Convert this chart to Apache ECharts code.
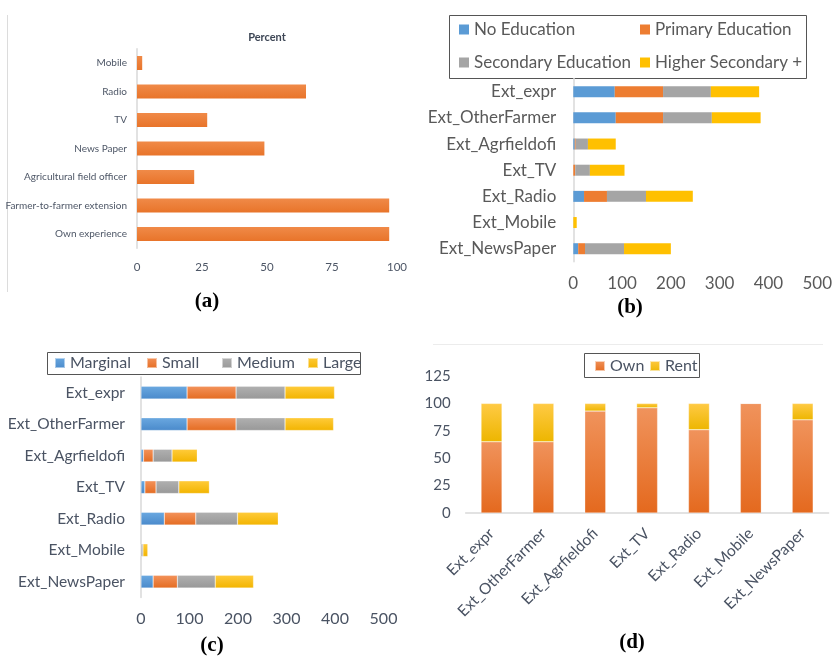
<!DOCTYPE html>
<html>
<head>
<meta charset="utf-8">
<script src="https://cdn.jsdelivr.net/npm/echarts@6/dist/echarts.min.js"></script>
<style>html,body{margin:0;padding:0;background:#fff}#c{width:834px;height:656px}</style>
</head>
<body>
<div id="c"></div>
<script>
// ---- Data ----
const sourcesA = ['Mobile','Radio','TV','News Paper','Agricultural field officer','Farmer-to-farmer extension','Own experience'];
const percentA = [2, 65, 27, 49, 22, 97, 97];

const extCats = ['Ext_expr','Ext_OtherFarmer','Ext_Agrfieldofi','Ext_TV','Ext_Radio','Ext_Mobile','Ext_NewsPaper'];

const noEducation = [85, 87, 3, 0, 22, 0, 10];
const primaryEducation = [99, 97, 2, 4, 47, 0, 14];
const secondaryEducation = [98, 100, 25, 30, 80, 0, 80];
const higherSecondary = [99, 100, 57, 71, 96, 7, 96];

const marginal = [95, 95, 5, 8, 48, 0, 25];
const small = [101, 101, 20, 23, 65, 0, 50];
const medium = [101, 101, 39, 47, 86, 4, 78];
const large = [102, 100, 52, 63, 84, 10, 79];

const own = [65, 65, 93, 96, 76, 100, 85];
const rent = [35, 35, 7, 4, 24, 0, 15];

const ticksA = [0, 25, 50, 75, 100];
const ticksBC = [0, 100, 200, 300, 400, 500];
const ticksD = [0, 25, 50, 75, 100, 125];

// ---- Styles ----
const BLUE = '#5B9BD5', ORANGE = '#ED7D31', GRAY = '#A5A5A5', YELLOW = '#FFC000';
const grad = (top, bottom) => new echarts.graphic.LinearGradient(0, 0, 0, 1, [{offset:0,color:top},{offset:1,color:bottom}]);
const FA = 'Lato, sans-serif';
const FL = 'Lato, "Open Sans", sans-serif';
const colA = '#4d5666';
const colB = '#595959';
const colC = '#4a5363';

const chart = echarts.init(document.getElementById('c'), null, {renderer:'canvas'});

function valueAxis(grid, ticks, lblColor, font, size){
  return {gridIndex:grid, type:'value', min:ticks[0], max:ticks[ticks.length-1], interval:ticks[1]-ticks[0],
    axisLine:{show:false}, axisTick:{show:false}, splitLine:{show:false},
    axisLabel:{color:lblColor, fontFamily:font, fontSize:size, margin:13}};
}
function catAxisY(grid, cats, lblColor, font, size, margin){
  return {gridIndex:grid, type:'category', data:cats, inverse:true,
    axisLine:{show:true, onZero:false, lineStyle:{color:'#d9d9d9', width:1.5}}, axisTick:{show:false}, splitLine:{show:false},
    axisLabel:{color:lblColor, fontFamily:font, fontSize:size, margin:margin, interval:0}};
}
function legendItem(name, left, cy, color, size){
  return {data:[name], left:left, top:cy-8, padding:0, itemGap:0, itemWidth:10, itemHeight:10, icon:'rect',
    selectedMode:false, textStyle:{color:color, fontFamily:FL, fontSize:size, lineHeight:16, padding:[0,0,0,0]}};
}

const option = {
  backgroundColor:'#ffffff',
  animation:false,
  grid:[
    {left:137, top:48.75, width:260, height:199.5, outerBoundsMode:'none', containLabel:false},
    {left:573.3, top:78.6, width:243.9, height:183.2, outerBoundsMode:'none', containLabel:false},
    {left:141, top:376.9, width:242.5, height:220.5, outerBoundsMode:'none', containLabel:false},
    {left:465.6, top:376, width:363, height:137, outerBoundsMode:'none', containLabel:false}
  ],
  xAxis:[
    valueAxis(0, ticksA, colA, FA, 11.5),
    valueAxis(1, ticksBC, colB, FL, 17),
    valueAxis(2, ticksBC, colC, FL, 16),
    {gridIndex:3, type:'category', data:extCats,
     axisLine:{show:true, lineStyle:{color:'#d9d9d9', width:1.5}}, axisTick:{show:false},
     axisLabel:{color:colC, fontFamily:FL, fontSize:15.5, rotate:45, interval:0, margin:18}}
  ],
  yAxis:[
    catAxisY(0, sourcesA, colA, FA, 10, 10),
    catAxisY(1, extCats, colB, FL, 17, 17),
    catAxisY(2, extCats, colC, FL, 15.5, 16),
    {gridIndex:3, type:'value', min:ticksD[0], max:ticksD[ticksD.length-1], interval:25,
     axisLine:{show:false}, axisTick:{show:false}, splitLine:{show:false},
     axisLabel:{color:colC, fontFamily:FL, fontSize:15, margin:15}}
  ],
  legend:[
    legendItem('No Education', 459, 29, colB, 17),
    legendItem('Primary Education', 640, 29, colB, 17),
    legendItem('Secondary Education', 459, 62, colB, 17),
    legendItem('Higher Secondary +', 640, 62, colB, 17),
    legendItem('Marginal', 54, 363, colC, 16),
    legendItem('Small', 146, 363, colC, 16),
    legendItem('Medium', 221, 363, colC, 16),
    legendItem('Large', 307, 363, colC, 16),
    legendItem('Own', 594, 366, colC, 16),
    legendItem('Rent', 649, 366, colC, 16)
  ],
  series:[
    {name:'Percent', type:'bar', xAxisIndex:0, yAxisIndex:0, data:percentA, barWidth:14,
     itemStyle:{color:grad('#F08A48', '#E8742A')}},

    {name:'No Education', type:'bar', stack:'b', xAxisIndex:1, yAxisIndex:1, data:noEducation, barWidth:11, itemStyle:{color:BLUE}},
    {name:'Primary Education', type:'bar', stack:'b', xAxisIndex:1, yAxisIndex:1, data:primaryEducation, barWidth:11, itemStyle:{color:ORANGE}},
    {name:'Secondary Education', type:'bar', stack:'b', xAxisIndex:1, yAxisIndex:1, data:secondaryEducation, barWidth:11, itemStyle:{color:GRAY}},
    {name:'Higher Secondary +', type:'bar', stack:'b', xAxisIndex:1, yAxisIndex:1, data:higherSecondary, barWidth:11, itemStyle:{color:YELLOW}},

    {name:'Marginal', type:'bar', stack:'c', xAxisIndex:2, yAxisIndex:2, data:marginal, barWidth:12.7, itemStyle:{color:grad('#6AA8E0', '#4A8ACB'), borderColor:'rgba(255,255,255,0.5)', borderWidth:0.5}},
    {name:'Small', type:'bar', stack:'c', xAxisIndex:2, yAxisIndex:2, data:small, barWidth:12.7, itemStyle:{color:grad('#F3925A', '#E46C22'), borderColor:'rgba(255,255,255,0.5)', borderWidth:0.5}},
    {name:'Medium', type:'bar', stack:'c', xAxisIndex:2, yAxisIndex:2, data:medium, barWidth:12.7, itemStyle:{color:grad('#B0B0B0', '#989898'), borderColor:'rgba(255,255,255,0.5)', borderWidth:0.5}},
    {name:'Large', type:'bar', stack:'c', xAxisIndex:2, yAxisIndex:2, data:large, barWidth:12.7, itemStyle:{color:grad('#FFCB3A', '#F2B400'), borderColor:'rgba(255,255,255,0.5)', borderWidth:0.5}},

    {name:'Own', type:'bar', stack:'d', xAxisIndex:3, yAxisIndex:3, data:own, barWidth:21, itemStyle:{color:grad('#F0935C', '#E4691E'), borderColor:'rgba(255,255,255,0.6)', borderWidth:0.5}},
    {name:'Rent', type:'bar', stack:'d', xAxisIndex:3, yAxisIndex:3, data:rent, barWidth:21, itemStyle:{color:grad('#FFCA45', '#EDB600'), borderColor:'rgba(255,255,255,0.6)', borderWidth:0.5}}
  ],
  graphic:[
    {type:'line', shape:{x1:7.5, y1:15, x2:7.5, y2:292}, style:{stroke:'#dcdcdc', lineWidth:1}},
    {type:'line', shape:{x1:433, y1:344.5, x2:823, y2:344.5}, style:{stroke:'#ececec', lineWidth:1}},
    {type:'rect', shape:{x:449.5, y:15.5, width:357, height:63}, style:{fill:'none', stroke:'#555555', lineWidth:1}},
    {type:'rect', shape:{x:47.5, y:352.5, width:313, height:22}, style:{fill:'none', stroke:'#555555', lineWidth:1}},
    {type:'rect', shape:{x:584.5, y:353.5, width:115, height:24}, style:{fill:'none', stroke:'#555555', lineWidth:1}},
    {type:'text', x:267, y:37, style:{text:'Percent', fill:'#3e4756', font:'bold 11px ' + FA, textAlign:'center', textVerticalAlign:'middle'}},
    {type:'text', x:207, y:302, style:{text:'(a)', fill:'#000', font:'bold 21px "Liberation Serif", serif', textAlign:'center', textVerticalAlign:'middle'}},
    {type:'text', x:630, y:308, style:{text:'(b)', fill:'#000', font:'bold 21px "Liberation Serif", serif', textAlign:'center', textVerticalAlign:'middle'}},
    {type:'text', x:212, y:646, style:{text:'(c)', fill:'#000', font:'bold 21px "Liberation Serif", serif', textAlign:'center', textVerticalAlign:'middle'}},
    {type:'text', x:632, y:643, style:{text:'(d)', fill:'#000', font:'bold 21px "Liberation Serif", serif', textAlign:'center', textVerticalAlign:'middle'}}
  ]
};
chart.setOption(option);
</script>
</body>
</html>
